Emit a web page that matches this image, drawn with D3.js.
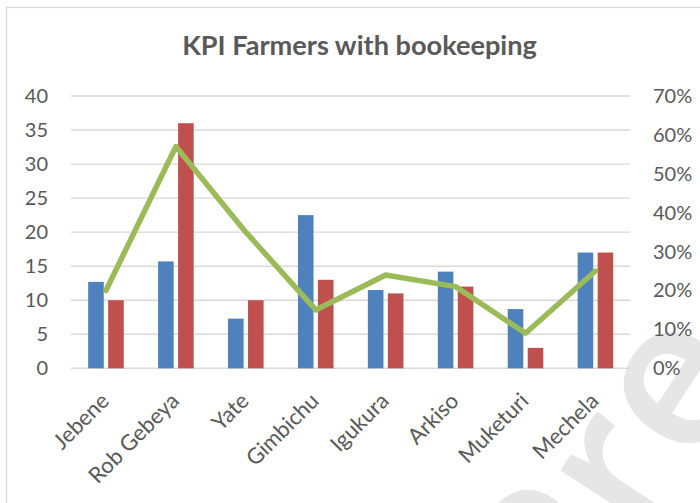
<!DOCTYPE html>
<html><head><meta charset="utf-8">
<script src="https://cdn.jsdelivr.net/npm/d3@7"></script>
<style>body{margin:0;background:#fff}svg{display:block}</style>
</head><body>
<svg id="c" width="700" height="503"></svg>
<script>
const categories = ["Jebene","Rob Gebeya","Yate","Gimbichu","Igukura","Arkiso","Muketuri","Mechela"];
const seriesBlue = [12.7,15.7,7.3,22.5,11.5,14.2,8.7,17];
const seriesRed = [10,36,10,13,11,12,3,17];
const seriesPct = [0.20,0.57,0.35,0.15,0.24,0.21,0.09,0.25];
const leftTicks = [0,5,10,15,20,25,30,35,40];
const rightTicks = [0,0.1,0.2,0.3,0.4,0.5,0.6,0.7];
const titleText = "KPI Farmers with bookeeping";
const watermarkText = "Pre";

const svg = d3.select("#c");
const font = "Lato, 'Open Sans', sans-serif";
const textCol = "#595959";

// watermark
svg.append("text").text(watermarkText)
  .attr("transform","translate(576,655) rotate(-57)")
  .attr("font-family","'Open Sans', sans-serif").attr("font-weight",600)
  .attr("font-size",210).attr("fill","#e6e6e6");

// chart border
svg.append("rect").attr("x",6.5).attr("y",7.5).attr("width",900).attr("height",700)
  .attr("fill","none").attr("stroke","#d9d9d9").attr("stroke-width",1.3);

const x = d3.scaleBand().domain(categories).range([71,630.4]);
const y = d3.scaleLinear().domain([0,40]).range([368.3,96]);
const yR = d3.scaleLinear().domain([0,0.7]).range([368.3,96]);

// gridlines
svg.append("g").selectAll("line").data(leftTicks).join("line")
  .attr("x1",71).attr("x2",630.4)
  .attr("y1",d=>y(d)).attr("y2",d=>y(d))
  .attr("stroke","#d9d9d9").attr("stroke-width",1.4);

const bw = x.bandwidth();
const barW = bw*0.223, gap = bw*0.063;

svg.append("g").selectAll("rect").data(categories).join("rect")
  .attr("x",(d)=>x(d)+bw/2-gap/2-barW)
  .attr("width",barW)
  .attr("y",(d,i)=>y(seriesBlue[i]))
  .attr("height",(d,i)=>y(0)-y(seriesBlue[i]))
  .attr("fill","#4F81BD");
svg.append("g").selectAll("rect").data(categories).join("rect")
  .attr("x",(d)=>x(d)+bw/2+gap/2)
  .attr("width",barW)
  .attr("y",(d,i)=>y(seriesRed[i]))
  .attr("height",(d,i)=>y(0)-y(seriesRed[i]))
  .attr("fill","#C0504D");

const line = d3.line().x((d,i)=>x(categories[i])+bw/2).y(d=>yR(d));
svg.append("path").datum(seriesPct).attr("d",line)
  .attr("fill","none").attr("stroke","#9BBB59").attr("stroke-width",5.5)
  .attr("stroke-linejoin","round").attr("stroke-linecap","round");

// left axis
const gL = svg.append("g").attr("transform","translate(48,0)")
  .call(d3.axisLeft(y).tickValues(leftTicks).tickSize(0).tickPadding(0));
gL.select(".domain").remove();
gL.selectAll("text").attr("font-family",font).attr("font-size",20).attr("fill",textCol);

// right axis
const gR = svg.append("g").attr("transform","translate(653,0)")
  .call(d3.axisRight(yR).tickValues(rightTicks).tickSize(0).tickPadding(0).tickFormat(d3.format(".0%")));
gR.select(".domain").remove();
gR.selectAll("text").attr("font-family",font).attr("font-size",20).attr("fill",textCol);

// bottom axis
const gB = svg.append("g").attr("transform","translate(0,368.3)")
  .call(d3.axisBottom(x).tickSize(0).tickPadding(0));
gB.select(".domain").remove();
gB.selectAll("text").attr("font-family",font).attr("font-size",22).attr("fill",textCol)
  .attr("text-anchor","end").attr("y",0).attr("dy",0)
  .attr("transform","translate(4.5,34) rotate(-45)");

// title
const t = svg.append("text").text(titleText)
  .attr("x",359.5).attr("y",55).attr("text-anchor","middle")
  .attr("font-family",font).attr("font-weight",700).attr("font-size",24).attr("fill",textCol);
const w = t.node().getComputedTextLength();
t.attr("font-size",24*355/w);
</script>
</body></html>
